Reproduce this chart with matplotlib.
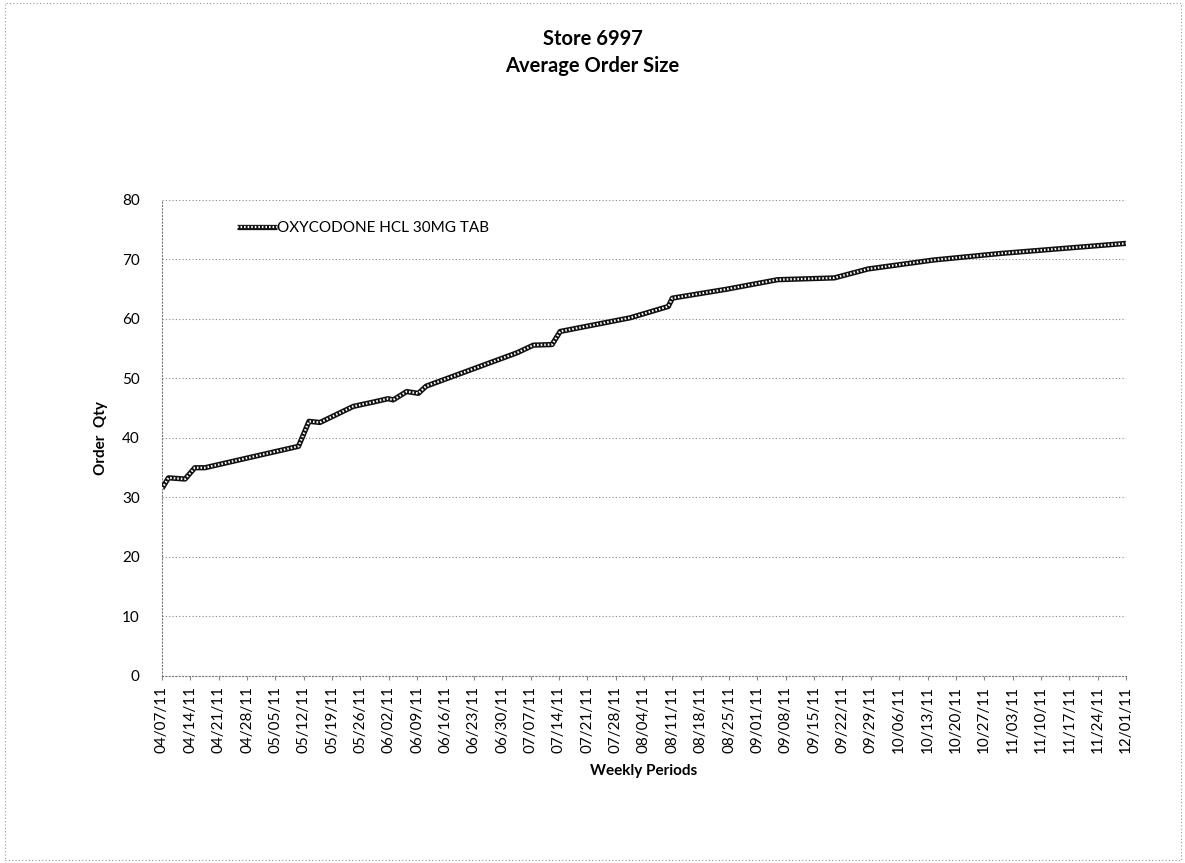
import matplotlib.pyplot as plt
from matplotlib.patches import Rectangle

plt.rcParams['font.family'] = ['Lato', 'DejaVu Sans']

# day offsets from 04/07/11 where the line bends, and the order qty there
days = [0, 1.6, 5.7, 8.1, 10.6, 33.7, 36.3, 39, 47.2, 52.6, 55.8, 57.1, 60.4,
        63.3, 65.2, 87.6, 91.7, 96.3, 98.3, 115.6, 125, 126, 139.4, 152, 166,
        174.3, 190.4, 206.9, 238]
qty = [31.5, 33.3, 33.1, 35.0, 35.0, 38.6, 42.8, 42.6, 45.3, 46.1, 46.6, 46.4,
       47.8, 47.5, 48.7, 54.3, 55.6, 55.7, 57.9, 60.2, 62.1, 63.5, 65.0, 66.6,
       66.9, 68.4, 69.9, 71.0, 72.7]

week_labels = ["04/07/11", "04/14/11", "04/21/11", "04/28/11", "05/05/11",
               "05/12/11", "05/19/11", "05/26/11", "06/02/11", "06/09/11",
               "06/16/11", "06/23/11", "06/30/11", "07/07/11", "07/14/11",
               "07/21/11", "07/28/11", "08/04/11", "08/11/11", "08/18/11",
               "08/25/11", "09/01/11", "09/08/11", "09/15/11", "09/22/11",
               "09/29/11", "10/06/11", "10/13/11", "10/20/11", "10/27/11",
               "11/03/11", "11/10/11", "11/17/11", "11/24/11", "12/01/11"]
week_pos = [7 * i for i in range(len(week_labels))]

fig = plt.figure(figsize=(11.85, 8.63), dpi=100)
ax = fig.add_axes([0.1367, 0.2167, 0.8135, 0.5516])

# patent-style line: thick black with short white dashes on top (chain look)
l1, = ax.plot(days, qty, color="#111111", lw=3.8, solid_capstyle="butt", zorder=3)
l2, = ax.plot(days, qty, color="white", lw=1.6, dashes=(0.7, 0.9), zorder=4)

ax.set_xlim(0, 238)
ax.set_ylim(0, 80)
ax.set_yticks(range(0, 81, 10))
ax.set_xticks(week_pos)
ax.set_xticklabels(week_labels, rotation=90)
ax.tick_params(axis="y", length=0, labelsize=11, pad=16)
ax.tick_params(axis="x", length=3, color="#888888", labelsize=11, pad=4)

ax.grid(axis="y", linestyle=(0, (1, 2)), color="#888888", lw=0.8)
for s in ["top", "right"]:
    ax.spines[s].set_visible(False)
for s in ["left", "bottom"]:
    ax.spines[s].set_linestyle((0, (1, 2)))
    ax.spines[s].set_color("#777777")
    ax.spines[s].set_linewidth(0.8)

ax.set_ylabel("Order  Qty", fontsize=11, fontweight="bold", labelpad=10)
ax.set_xlabel("Weekly Periods", fontsize=11, fontweight="bold", labelpad=8)

ax.legend([(l1, l2)], ["OXYCODONE HCL 30MG TAB"], loc="upper left",
          bbox_to_anchor=(0.064, 0.985), frameon=False, fontsize=11,
          handlelength=2.6, handletextpad=0.0)

fig.text(0.5, 0.955, "Store 6997", ha="center", va="center",
         fontsize=14.5, fontweight="bold")
fig.text(0.5, 0.924, "Average Order Size", ha="center", va="center",
         fontsize=14.5, fontweight="bold")

fig.patches.append(Rectangle((0.004, 0.003), 0.993, 0.994, transform=fig.transFigure,
                             fill=False, ec="#999999", lw=0.8, ls=(0, (1, 2))))

fig.savefig("out.png", dpi=100)
